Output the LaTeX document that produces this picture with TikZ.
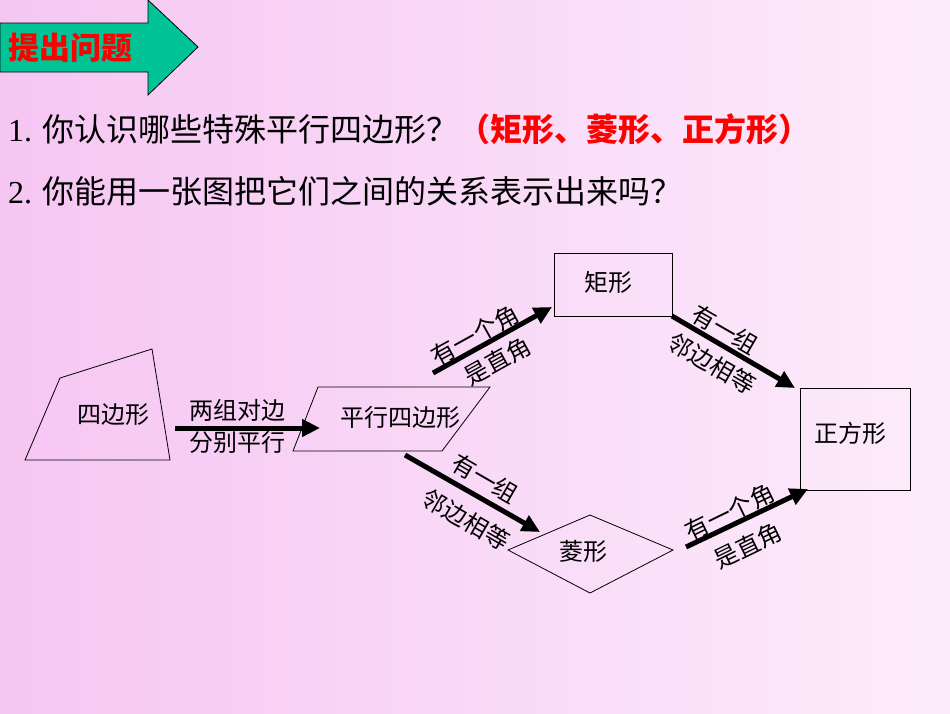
\documentclass[tikz,border=0pt]{standalone}
\usepackage{fontspec}
\setmainfont{Liberation Serif}
\newfontfamily\cjk{Noto Sans CJK SC}
\usetikzlibrary{arrows.meta}
\definecolor{bgl}{RGB}{246,198,243}
\definecolor{bgr}{RGB}{252,236,251}
\definecolor{tealg}{RGB}{0,196,150}
\tikzset{
  shp/.style={draw=black,line width=0.8pt},
  lbl/.style={font=\cjk\fontsize{24}{26}\selectfont,inner sep=0pt},
  big/.style={font=\fontsize{32}{34}\selectfont,anchor=base west,inner sep=0pt},
  thick arrow/.style={line width=5pt,-{Triangle[length=18pt,width=17pt]}}
}
\begin{document}
\begin{tikzpicture}[x=1pt,y=-1pt]
\useasboundingbox (0,0) rectangle (950,713);
\fill[left color=bgl,right color=bgr] (0,0) rectangle (950,713);
% title arrow
\filldraw[fill=tealg,draw=black,line width=0.8pt] (0,23) -- (148,23) -- (148,0) -- (198,47) -- (148,95) -- (148,72) -- (0,72) -- cycle;
\node[font=\cjk\fontsize{31}{33}\selectfont\bfseries,text=red,anchor=west,inner sep=0pt] (title) at (8,48) {提出问题};
\node[big] (q1) at (8,141) {1. {\cjk 你认识哪些特殊平行四边形？}{\cjk\bfseries\color{red}（矩形、菱形、正方形）}};
\node[big] (q2) at (8,203) {2. {\cjk 你能用一张图把它们之间的关系表示出来吗？}};
% shapes
\draw[shp] (25,460) -- (60,378) -- (152,349) -- (170,460) -- cycle;
\node[lbl] (quad) at (113,415) {四边形};
\draw[shp] (318,387) -- (490,387) -- (442,451) -- (293,451) -- cycle;
\node[lbl] (para) at (400,417) {平行四边形};
\draw[shp] (554,253) rectangle (672,316);
\node[lbl] (rect) at (608,282) {矩形};
\draw[shp] (800,388) rectangle (910,490);
\node[lbl] (sq) at (850,433) {正方形};
\draw[shp] (508,550) -- (590,515) -- (673,550) -- (590,593) -- cycle;
\node[lbl] (rh) at (583,551) {菱形};
% connector endpoints
\coordinate (a1s) at (175,428); \coordinate (a1e) at (320,428);
\coordinate (a2s) at (433,373); \coordinate (a2e) at (552,307);
\coordinate (a3s) at (672,316); \coordinate (a3e) at (795,388);
\coordinate (a4s) at (405,455); \coordinate (a4e) at (540,532);
\coordinate (a5s) at (686,547); \coordinate (a5e) at (808,489);
\draw[thick arrow] (a1s) -- (a1e);
\draw[thick arrow] (a2s) -- (a2e);
\draw[thick arrow] (a3s) -- (a3e);
\draw[thick arrow] (a4s) -- (a4e);
\draw[thick arrow] (a5s) -- (a5e);
% labels
\node[lbl] (l1a) at (237,410) {两组对边};
\node[lbl] (l1b) at (237,442) {分别平行};
\node[lbl,rotate=29] (l2a) at (475,335) {有一个角};
\node[lbl,rotate=29] (l2b) at (498,361) {是直角};
\node[lbl,rotate=-30] (l3a) at (725,330) {有一组};
\node[lbl,rotate=-30] (l3b) at (712,364) {邻边相等};
\node[lbl,rotate=-30] (l4a) at (485,479) {有一组};
\node[lbl,rotate=-30] (l4b) at (466,520) {邻边相等};
\node[lbl,rotate=26] (l5a) at (730,512) {有一个角};
\node[lbl,rotate=26] (l5b) at (748,546) {是直角};
\end{tikzpicture}
\end{document}
